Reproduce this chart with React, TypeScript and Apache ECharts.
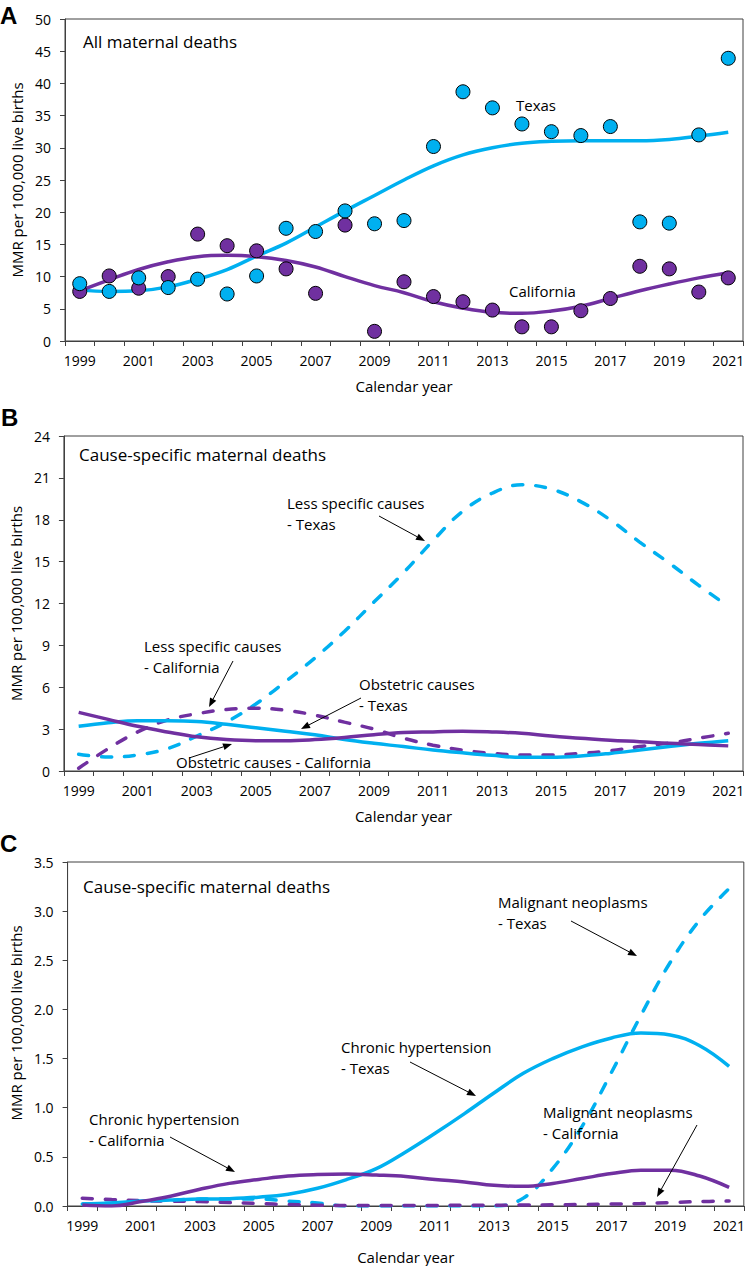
import React, { useEffect, useRef } from "react";
import * as echarts from "echarts";

const years = ["1999","2000","2001","2002","2003","2004","2005","2006","2007","2008","2009","2010","2011","2012","2013","2014","2015","2016","2017","2018","2019","2020","2021"];

// Panel A: all maternal deaths
const texasMMR = [8.9, 7.7, 9.8, 8.3, 9.6, 7.3, 10.1, 17.5, 17.0, 20.2, 18.2, 18.7, 30.2, 38.7, 36.2, 33.7, 32.5, 31.9, 33.3, 18.5, 18.3, 32.0, 43.9];
const californiaMMR = [7.7, 10.1, 8.2, 10.0, 16.6, 14.8, 14.0, 11.2, 7.4, 18.0, 1.5, 9.2, 6.9, 6.1, 4.8, 2.2, 2.2, 4.7, 6.6, 11.6, 11.2, 7.6, 9.8];
const texasTrend = [7.9, 7.7, 7.8, 8.4, 9.6, 11.1, 13.2, 15.2, 17.7, 20.2, 22.6, 25.0, 27.2, 28.9, 30.0, 30.7, 31.0, 31.1, 31.1, 31.1, 31.3, 31.8, 32.4];
const californiaTrend = [7.8, 9.5, 11.1, 12.3, 13.1, 13.3, 13.1, 12.5, 11.5, 10.0, 8.6, 7.5, 6.1, 5.1, 4.45, 4.3, 4.65, 5.4, 6.6, 7.8, 8.85, 9.8, 10.6];

// Panel B: cause-specific (less specific / obstetric)
const lessSpecificTexas = [1.2, 1.0, 1.15, 1.6, 2.5, 3.5, 4.8, 6.4, 8.1, 10.0, 12.1, 14.2, 16.5, 18.6, 19.9, 20.5, 20.2, 19.3, 18.0, 16.4, 14.9, 13.3, 11.8];
const lessSpecificCalifornia = [0.2, 1.6, 2.8, 3.65, 4.1, 4.4, 4.5, 4.35, 4.0, 3.5, 3.0, 2.35, 1.85, 1.5, 1.26, 1.15, 1.15, 1.26, 1.45, 1.75, 2.0, 2.35, 2.7];
const obstetricTexas = [3.2, 3.45, 3.6, 3.6, 3.55, 3.35, 3.1, 2.85, 2.6, 2.25, 1.98, 1.75, 1.5, 1.3, 1.12, 0.98, 0.98, 1.07, 1.26, 1.5, 1.75, 1.98, 2.17];
const obstetricCalifornia = [4.2, 3.7, 3.2, 2.8, 2.45, 2.25, 2.17, 2.17, 2.25, 2.4, 2.6, 2.75, 2.8, 2.85, 2.8, 2.7, 2.5, 2.35, 2.2, 2.1, 1.98, 1.9, 1.8];

// Panel C: cause-specific (chronic hypertension / malignant neoplasms)
const chronicHypTexas = [0.02, 0.03, 0.05, 0.06, 0.07, 0.075, 0.09, 0.12, 0.18, 0.27, 0.38, 0.55, 0.74, 0.94, 1.15, 1.35, 1.5, 1.62, 1.71, 1.76, 1.74, 1.63, 1.42];
const chronicHypCalifornia = [0.01, 0.0, 0.045, 0.1, 0.17, 0.23, 0.27, 0.305, 0.32, 0.325, 0.315, 0.3, 0.27, 0.245, 0.21, 0.2, 0.23, 0.28, 0.33, 0.365, 0.365, 0.305, 0.19];
const malignantTexas = [0.02, 0.03, 0.05, 0.06, 0.07, 0.07, 0.07, 0.05, 0.03, 0.0, 0.0, 0.0, 0.0, 0.0, 0.0, 0.08, 0.38, 0.81, 1.36, 1.94, 2.48, 2.91, 3.23];
const malignantCalifornia = [0.08, 0.065, 0.055, 0.05, 0.045, 0.035, 0.025, 0.015, 0.008, 0.004, 0.004, 0.005, 0.006, 0.007, 0.008, 0.01, 0.012, 0.015, 0.02, 0.025, 0.035, 0.045, 0.05];

const CYAN = "#00B0F0";
const PURPLE = "#7030A0";
const AXIS = "#404040";
const FONT = "'Open Sans', sans-serif";

function textEl(x: number, y: number, s: string, size = 15) {
  return {
    type: "text",
    x,
    y,
    style: { text: s, fill: "#000", font: `${size}px ${FONT}`, textVerticalAlign: "middle", textAlign: "left" },
    z: 100,
  };
}

function arrowEls(x1: number, y1: number, x2: number, y2: number) {
  const ang = Math.atan2(y2 - y1, x2 - x1);
  const L = 9, W = 3.5;
  const c = Math.cos(ang), s = Math.sin(ang);
  const bx = x2 - L * c, by = y2 - L * s;
  const px = -s * W, py = c * W;
  return [
    { type: "line", shape: { x1, y1, x2: bx, y2: by }, style: { stroke: "#000", lineWidth: 1 }, z: 100 },
    { type: "polygon", shape: { points: [[x2, y2], [bx + px, by + py], [bx - px, by - py]] }, style: { fill: "#000" }, z: 100 },
  ];
}

function xAxisCfg(gridIndex: number, nameGap: number) {
  return {
    type: "category",
    gridIndex,
    data: years,
    boundaryGap: true,
    name: "Calendar year",
    nameLocation: "middle",
    nameGap,
    nameTextStyle: { color: "#000", fontSize: 15, fontFamily: FONT },
    axisLine: { show: true, lineStyle: { color: AXIS, width: 1 } },
    axisTick: { show: true, interval: 0, length: 5, lineStyle: { color: AXIS } },
    axisLabel: { interval: 1, color: "#000", fontSize: 14, fontFamily: FONT, margin: 12 },
    splitLine: { show: false },
  };
}

function yAxisCfg(gridIndex: number, max: number, interval: number, nameGap: number, decimals: number, namePad: number[]) {
  return {
    type: "value",
    gridIndex,
    min: 0,
    max,
    interval,
    name: "MMR per 100,000 live births",
    nameLocation: "middle",
    nameGap,
    nameRotate: 90,
    nameTextStyle: { color: "#000", fontSize: 15, fontFamily: FONT, padding: namePad },
    axisLine: { show: true, lineStyle: { color: AXIS, width: 1 } },
    axisTick: { show: true, length: 5, lineStyle: { color: AXIS } },
    axisLabel: {
      color: "#000",
      fontSize: 14,
      fontFamily: FONT,
      margin: 14,
      formatter: (v: number) => v.toFixed(decimals),
    },
    splitLine: { show: false },
  };
}

function lineSeries(data: number[], color: string, idx: number, dashed: boolean) {
  return {
    type: "line",
    xAxisIndex: idx,
    yAxisIndex: idx,
    data,
    smooth: 0.4,
    showSymbol: false,
    symbol: "none",
    lineStyle: dashed
      ? { color, width: 3.5, type: [10, 13], cap: "round" }
      : { color, width: 3.5, type: "solid" },
    itemStyle: { color },
    z: 3,
  };
}

function scatterSeries(data: number[], color: string) {
  return {
    type: "scatter",
    xAxisIndex: 0,
    yAxisIndex: 0,
    data,
    symbol: "circle",
    symbolSize: 14,
    itemStyle: { color, borderColor: "#000", borderWidth: 1, opacity: 1 },
    z: 5,
  };
}

export default function App() {
  const ref = useRef<HTMLDivElement>(null);
  useEffect(() => {
    document.body.style.margin = "0";
    if (!ref.current) return;
    const chart = echarts.init(ref.current, undefined, { renderer: "svg" });

    const graphics: any[] = [
      { type: "text", x: 0, y: 15, style: { text: "A", fill: "#000", font: "bold 24px 'Liberation Sans', Arial, sans-serif", textVerticalAlign: "middle" } },
      { type: "text", x: 1, y: 417, style: { text: "B", fill: "#000", font: "bold 24px 'Liberation Sans', Arial, sans-serif", textVerticalAlign: "middle" } },
      { type: "text", x: 0, y: 843, style: { text: "C", fill: "#000", font: "bold 24px 'Liberation Sans', Arial, sans-serif", textVerticalAlign: "middle" } },
      // Panel A
      textEl(83, 41, "All maternal deaths", 17),
      textEl(516, 105, "Texas"),
      textEl(509, 291, "California"),
      // Panel B
      textEl(79, 454, "Cause-specific maternal deaths", 17),
      textEl(287, 503, "Less specific causes"),
      textEl(287, 524, "- Texas"),
      textEl(144, 646, "Less specific causes"),
      textEl(144, 667, "- California"),
      textEl(359, 684, "Obstetric causes"),
      textEl(359, 705, "- Texas"),
      textEl(176, 762, "Obstetric causes - California"),
      ...arrowEls(379, 516, 425, 541),
      ...arrowEls(233, 661, 209, 707),
      ...arrowEls(361, 698, 301, 729),
      ...arrowEls(189, 758, 232, 744),
      // Panel C
      textEl(83, 886, "Cause-specific maternal deaths", 17),
      textEl(89, 1119, "Chronic hypertension"),
      textEl(89, 1140, "- California"),
      textEl(341, 1047, "Chronic hypertension"),
      textEl(341, 1068, "- Texas"),
      textEl(498, 902, "Malignant neoplasms"),
      textEl(498, 923, "- Texas"),
      textEl(543, 1112, "Malignant neoplasms"),
      textEl(543, 1133, "- California"),
      ...arrowEls(170, 1137, 235, 1172),
      ...arrowEls(410, 1062, 476, 1096),
      ...arrowEls(571, 921, 637, 956),
      ...arrowEls(697, 1125, 657, 1197),
    ];

    const option: any = {
      animation: false,
      backgroundColor: "#fff",
      grid: [
        { left: 65, top: 19, right: 5, height: 322, show: true, borderColor: AXIS, borderWidth: 1, containLabel: false },
        { left: 63, top: 436, right: 5, height: 335, show: true, borderColor: AXIS, borderWidth: 1, containLabel: false },
        { left: 65, top: 862, right: 1, height: 344, show: true, borderColor: AXIS, borderWidth: 1, containLabel: false },
      ],
      xAxis: [xAxisCfg(0, 37), xAxisCfg(1, 37), xAxisCfg(2, 43)],
      yAxis: [
        yAxisCfg(0, 50, 5, 40, 0, [0, 0, 0, 0]),
        yAxisCfg(1, 24, 3, 38, 0, [0, 0, 0, 0]),
        yAxisCfg(2, 3.5, 0.5, 41, 1, [0, 0, 0, 22]),
      ],
      series: [
        lineSeries(texasTrend, CYAN, 0, false),
        lineSeries(californiaTrend, PURPLE, 0, false),
        scatterSeries(californiaMMR, PURPLE),
        scatterSeries(texasMMR, CYAN),
        lineSeries(lessSpecificTexas, CYAN, 1, true),
        lineSeries(lessSpecificCalifornia, PURPLE, 1, true),
        lineSeries(obstetricTexas, CYAN, 1, false),
        lineSeries(obstetricCalifornia, PURPLE, 1, false),
        lineSeries(malignantTexas, CYAN, 2, true),
        lineSeries(malignantCalifornia, PURPLE, 2, true),
        lineSeries(chronicHypTexas, CYAN, 2, false),
        lineSeries(chronicHypCalifornia, PURPLE, 2, false),
      ],
      graphic: graphics,
    };
    chart.setOption(option);
    return () => chart.dispose();
  }, []);
  return <div ref={ref} style={{ width: 748, height: 1266 }} />;
}
